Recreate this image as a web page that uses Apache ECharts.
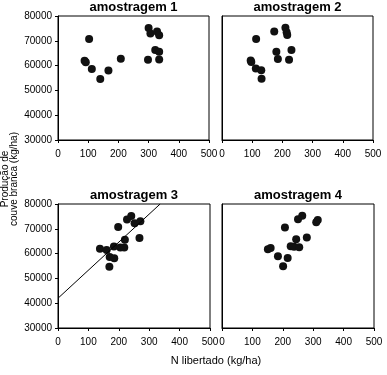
<!DOCTYPE html>
<html>
<head>
<meta charset="utf-8">
<script src="https://cdn.jsdelivr.net/npm/echarts@6/dist/echarts.min.js"></script>
<style>
html, body { margin: 0; padding: 0; background: #fff; }
#main { width: 387px; height: 375px; }
</style>
</head>
<body>
<div id="main"></div>
<script>
// dados: N libertado (kg/ha) x produção (kg/ha)
var titulos = ['amostragem 1', 'amostragem 2', 'amostragem 3', 'amostragem 4'];

var a1x = [88, 92, 103, 112, 140, 167, 208, 298, 300, 306, 322, 328, 335, 335, 335];
var a1y = [62000, 61400, 70700, 58600, 54600, 58000, 62800, 62400, 75200, 72900, 66300, 73800, 72200, 65600, 62500];

var a2x = [95, 97, 113, 112, 130, 131, 173, 180, 185, 210, 214, 216, 230, 222];
var a2y = [62100, 61500, 70700, 58800, 58100, 54700, 73700, 65600, 62700, 75300, 73400, 72300, 66300, 62400];

var a3x = [138, 160, 170, 169, 184, 185, 198, 205, 218, 220, 227, 241, 252, 271, 268];
var a3y = [62000, 61500, 58600, 54700, 62900, 58100, 70700, 62500, 62500, 65600, 73700, 75200, 72200, 73000, 66300];

var a4x = [151, 160, 184, 201, 216, 207, 226, 237, 254, 244, 250, 264, 279, 310, 315];
var a4y = [61800, 62300, 58900, 54900, 58200, 70500, 63000, 62800, 62600, 65800, 73900, 75300, 66500, 72600, 73500];

// recta de regressão (amostragem 3)
var retaX = [0, 336];
var retaY = [42000, 80000];

var xTicks = [0, 100, 200, 300, 400, 500];
var yTicks = [30000, 40000, 50000, 60000, 70000, 80000];

function pares(xs, ys) {
    var out = [];
    for (var i = 0; i < xs.length; i++) out.push([xs[i], ys[i]]);
    return out;
}

var grids = [
    {left: 58, top: 16, width: 151, height: 124},
    {left: 222, top: 16, width: 151, height: 124},
    {left: 58, top: 204, width: 152, height: 124},
    {left: 222, top: 204, width: 152, height: 124}
];

var fonte = '"Liberation Sans", Arial, sans-serif';
var xAxes = [], yAxes = [], series = [], titles = [];
var dados = [[a1x, a1y], [a2x, a2y], [a3x, a3y], [a4x, a4y]];

for (var g = 0; g < 4; g++) {
    var esquerda = (g % 2 == 0);   // só os painéis da esquerda têm escala no eixo y
    grids[g].show = true;
    grids[g].borderColor = '#000';
    grids[g].borderWidth = 1;
    grids[g].containLabel = false;
    xAxes.push({
        gridIndex: g, type: 'value', min: xTicks[0], max: xTicks[xTicks.length - 1], interval: 100,
        axisLine: {show: true, lineStyle: {color: '#000', width: 1}},
        axisTick: {show: true, length: 3, lineStyle: {color: '#000'}},
        axisLabel: {color: '#000', fontSize: 10, fontFamily: fonte, margin: 9,
            formatter: function (v) { return String(v); }},
        splitLine: {show: false}
    });
    yAxes.push({
        gridIndex: g, type: 'value', min: yTicks[0], max: yTicks[yTicks.length - 1], interval: 10000,
        axisLine: {show: true, lineStyle: {color: '#000', width: 1}},
        axisTick: {show: esquerda, length: 3, lineStyle: {color: '#000'}},
        axisLabel: {show: esquerda, color: '#000', fontSize: 10, fontFamily: fonte, margin: 6,
            formatter: function (v) { return String(v); }},
        splitLine: {show: false}
    });
    series.push({
        type: 'scatter', xAxisIndex: g, yAxisIndex: g,
        data: pares(dados[g][0], dados[g][1]),
        symbolSize: 8,
        itemStyle: {color: '#111', opacity: 1},
        silent: true
    });
    titles.push({
        text: titulos[g],
        left: grids[g].left + grids[g].width / 2,
        top: grids[g].top - 15,
        padding: 0,
        textAlign: 'center',
        textStyle: {fontSize: 13, fontWeight: 'bold', color: '#000', fontFamily: fonte}
    });
}

series.push({
    type: 'line', xAxisIndex: 2, yAxisIndex: 2,
    data: pares(retaX, retaY),
    symbol: 'none', clip: true,
    lineStyle: {color: '#000', width: 1},
    silent: true
});

titles.push({
    text: 'N libertado (kg/ha)',
    left: 216, top: 355, padding: 0, textAlign: 'center',
    textStyle: {fontSize: 11, fontWeight: 'normal', color: '#000', fontFamily: fonte}
});

var chart = echarts.init(document.getElementById('main'));
chart.setOption({
    animation: false,
    title: titles,
    grid: grids,
    xAxis: xAxes,
    yAxis: yAxes,
    series: series,
    graphic: [{
        type: 'text', x: 5, y: 179, rotation: Math.PI / 2,
        style: {text: 'Produção de', fill: '#000', font: '10px "Liberation Sans", Arial, sans-serif',
            align: 'center', verticalAlign: 'middle'}
    }, {
        type: 'text', x: 14, y: 179, rotation: Math.PI / 2,
        style: {text: 'couve branca (kg/ha)', fill: '#000', font: '10px "Liberation Sans", Arial, sans-serif',
            align: 'center', verticalAlign: 'middle'}
    }]
});
</script>
</body>
</html>
